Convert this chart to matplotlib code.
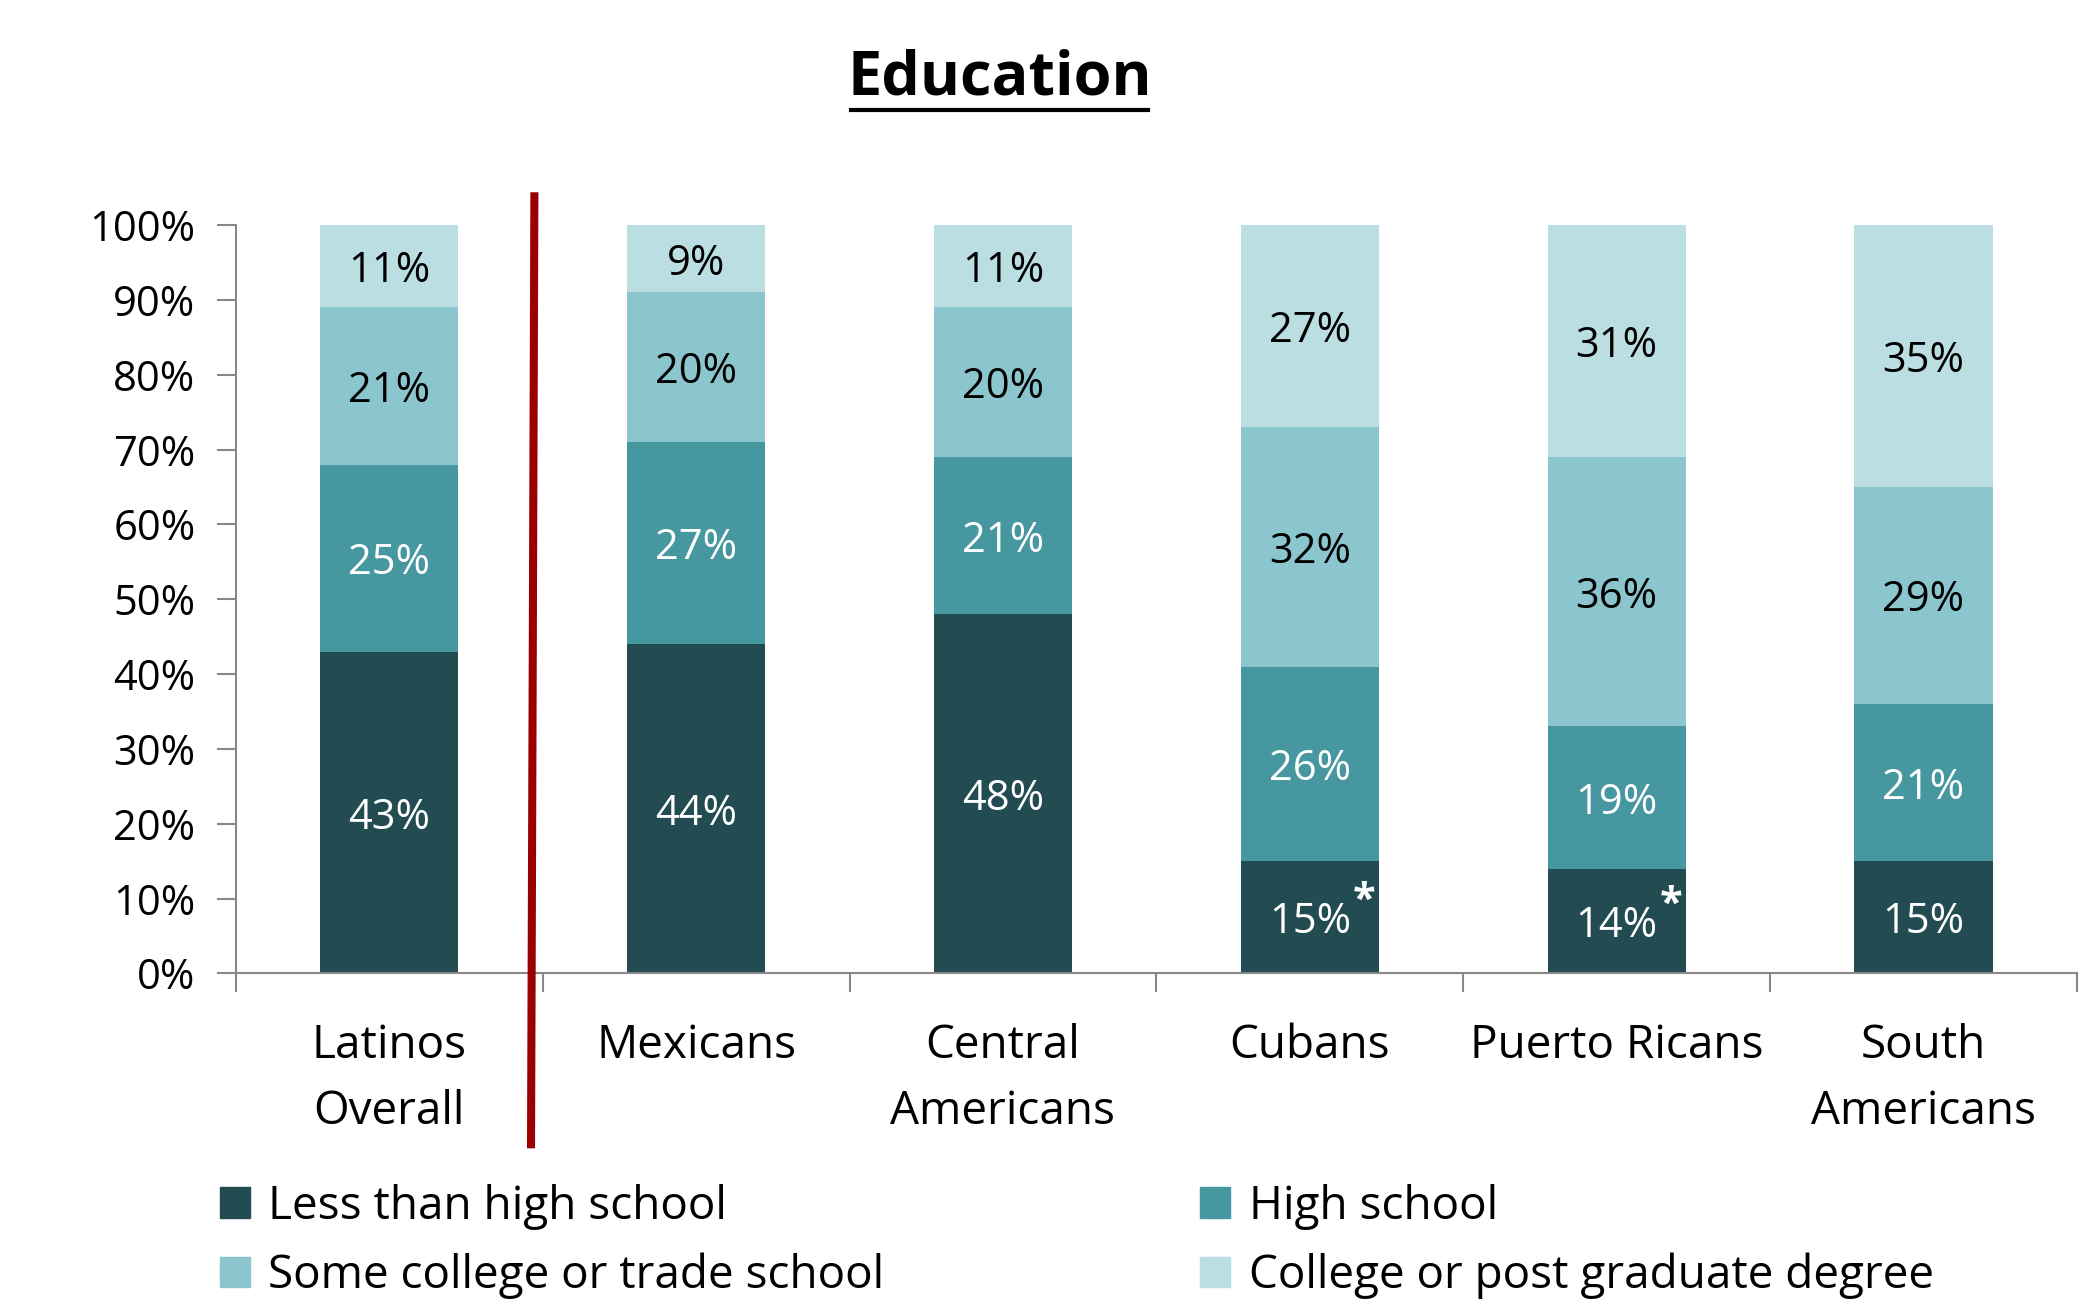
import numpy as np
import matplotlib
matplotlib.use("Agg")
import matplotlib.pyplot as plt
import matplotlib.transforms as mtransforms
from matplotlib.lines import Line2D
from matplotlib.patches import Patch

# Groupes et niveaux d'éducation (en %)
groupes = ["Latinos\nOverall", "Mexicans", "Central\nAmericans", "Cubans",
           "Puerto Ricans", "South\nAmericans"]
moins_lycee = [43, 44, 48, 15, 14, 15]
lycee = [25, 27, 21, 26, 19, 21]
college_partiel = [21, 20, 20, 32, 36, 29]
diplome = [11, 9, 11, 27, 31, 35]
asterisque = [False, False, False, True, True, False]

niveaux = ["Less than high school", "High school",
           "Some college or trade school", "College or post graduate degree"]
couleurs = ["#224C51", "#46979F", "#8BC5CD", "#BBDEE2"]
couleurs_texte = ["white", "white", "black", "black"]

plt.rcParams["font.family"] = ["Open Sans", "DejaVu Sans"]

fig = plt.figure(figsize=(21, 12.99), dpi=100)
ax = fig.add_axes([0.1123, 0.2506, 0.8767, 0.5762])

x = np.arange(len(groupes))
largeur = 0.45
series = [moins_lycee, lycee, college_partiel, diplome]
bas = np.zeros(len(groupes))
for serie, coul, ctexte in zip(series, couleurs, couleurs_texte):
    vals = np.array(serie) / 100
    ax.bar(x, vals, largeur, bottom=bas, color=coul, edgecolor="none")
    for i, v in enumerate(vals):
        ax.text(x[i], bas[i] + v / 2, f"{serie[i]}%", ha="center",
                va="center_baseline", fontsize=30, color=ctexte)
        if coul == couleurs[0] and asterisque[i]:
            ax.annotate("*", (x[i], bas[i] + v / 2), xytext=(39, 4),
                        textcoords="offset points", ha="center", va="baseline",
                        fontsize=30, color="white", fontweight="bold")
    bas += vals

ax.set_xlim(-0.5, len(groupes) - 0.5)
ax.set_ylim(0, 1)
ax.set_yticks(np.arange(0, 1.01, 0.1))
ax.set_yticklabels([f"{int(round(t * 100))}%" for t in np.arange(0, 1.01, 0.1)],
                   fontsize=30)
ax.tick_params(axis="y", length=14, width=1.5, color="#888888", pad=15)

# séparateurs sous l'axe x
ax.set_xticks(np.arange(-0.5, len(groupes), 1))
ax.set_xticklabels([])
ax.tick_params(axis="x", length=14, width=1.5, color="#888888")
for i, g in enumerate(groupes):
    ax.text(x[i], -0.066, g, ha="center", va="top", fontsize=33,
            linespacing=1.58, transform=ax.transData)

for s in ["top", "right"]:
    ax.spines[s].set_visible(False)
for s in ["left", "bottom"]:
    ax.spines[s].set_color("#888888")
    ax.spines[s].set_linewidth(1.5)

# ligne rouge de séparation
trans = mtransforms.blended_transform_factory(ax.transData, fig.transFigure)
fig.add_artist(Line2D([0.473, 0.462], [0.852, 0.116], transform=trans,
                      color="#990000", linewidth=5.8, solid_capstyle="butt"))

# titre souligné
titre = fig.text(0.476, 0.939, "Education", ha="center", va="center",
                 fontsize=44, fontweight="bold")
fig.canvas.draw()
bb = titre.get_window_extent().transformed(fig.transFigure.inverted())
fig.add_artist(Line2D([bb.x0 + 0.002, bb.x1 - 0.002], [bb.y0, bb.y0],
                      transform=fig.transFigure, color="black", linewidth=3))

# légende
poignees = [Patch(color=c) for c in couleurs]
ordre = [0, 2, 1, 3]
fig.legend([poignees[i] for i in ordre], [niveaux[i] for i in ordre],
           loc="upper left", bbox_to_anchor=(0.096, 0.103), ncol=2, frameon=False,
           fontsize=33, handlelength=0.65, handleheight=0.65, handletextpad=0.4,
           columnspacing=6.9, labelspacing=0.5, borderaxespad=0)

fig.savefig("out.png", dpi=100)
